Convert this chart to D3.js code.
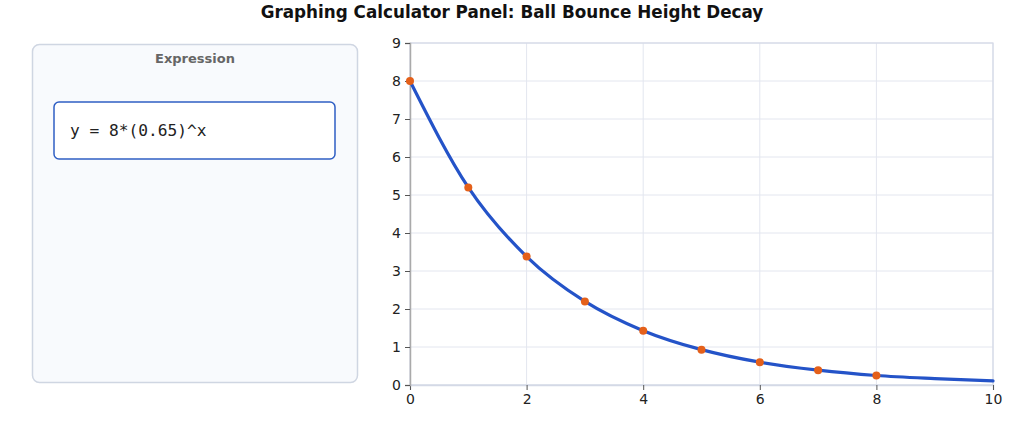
<!DOCTYPE html>
<html>
<head>
<meta charset="utf-8">
<script src="https://cdn.jsdelivr.net/npm/d3@7"></script>
<style>
  body { margin: 0; background: #fff; }
  svg { display: block; font-family: "DejaVu Sans", sans-serif; }
</style>
</head>
<body>
<script>
// chart data
var title = "Graphing Calculator Panel: Ball Bounce Height Decay";
var expression = "y = 8*(0.65)^x";
var curveX = [0, 1, 2, 3, 4, 5, 6, 7, 8, 9, 10];
var curveY = [8, 5.2, 3.38, 2.2, 1.43, 0.93, 0.6, 0.39, 0.25, 0.17, 0.11];
var bounceX = [0, 1, 2, 3, 4, 5, 6, 7, 8];
var bounceY = [8, 5.2, 3.38, 2.2, 1.43, 0.93, 0.6, 0.39, 0.25];
var xTicks = [0, 2, 4, 6, 8, 10];
var yTicks = [0, 1, 2, 3, 4, 5, 6, 7, 8, 9];

var W = 1024, H = 428;
var svg = d3.select("body").append("svg")
	.attr("width", W)
	.attr("height", H);

svg.append("text")
	.attr("x", 512)
	.attr("y", 18)
	.attr("text-anchor", "middle")
	.attr("font-size", 16.8)
	.attr("font-weight", "bold")
	.attr("fill", "#111")
	.text(title);

// left expression panel
var panel = svg.append("g");
panel.append("rect")
	.attr("x", 32.5).attr("y", 44.5)
	.attr("width", 325).attr("height", 338)
	.attr("rx", 7)
	.attr("fill", "#f8fafd")
	.attr("stroke", "#cfd6e2")
	.attr("stroke-width", 1.5);
panel.append("text")
	.attr("x", 195)
	.attr("y", 63)
	.attr("text-anchor", "middle")
	.attr("font-size", 13)
	.attr("font-weight", "bold")
	.attr("fill", "#666")
	.text("Expression");
panel.append("rect")
	.attr("x", 54).attr("y", 102)
	.attr("width", 281).attr("height", 57)
	.attr("rx", 5)
	.attr("fill", "#fff")
	.attr("stroke", "#2f5fc4")
	.attr("stroke-width", 1.5);
panel.append("text")
	.attr("x", 70)
	.attr("y", 136)
	.attr("font-family", "'DejaVu Sans Mono', monospace")
	.attr("font-size", 16.2)
	.attr("fill", "#222")
	.text(expression);

// plot
var x = d3.scaleLinear().domain([0, 10]).range([410, 993]);
var y = d3.scaleLinear().domain([0, 9]).range([385, 43]);

var grid = svg.append("g")
	.attr("stroke", "#e3e6ef")
	.attr("stroke-width", 1);
grid.selectAll("line.gx")
	.data(xTicks)
	.enter().append("line")
		.attr("x1", function(d) { return x(d); })
		.attr("x2", function(d) { return x(d); })
		.attr("y1", y(0))
		.attr("y2", y(9));
grid.selectAll("line.gy")
	.data(yTicks)
	.enter().append("line")
		.attr("x1", x(0))
		.attr("x2", x(10))
		.attr("y1", function(d) { return y(d); })
		.attr("y2", function(d) { return y(d); });

svg.append("rect")
	.attr("x", x(0)).attr("y", y(9))
	.attr("width", x(10) - x(0)).attr("height", y(0) - y(9))
	.attr("fill", "none")
	.attr("stroke", "#d4d9e6")
	.attr("stroke-width", 1.2);

var xAxis = svg.append("g")
	.attr("transform", "translate(0," + y(0) + ")")
	.call(d3.axisBottom(x).tickValues(xTicks).tickSize(5).tickPadding(4).tickFormat(d3.format("d")));
var yAxis = svg.append("g")
	.attr("transform", "translate(" + x(0) + ",0)")
	.call(d3.axisLeft(y).tickValues(yTicks).tickSize(5).tickPadding(4).tickFormat(d3.format("d")));
[xAxis, yAxis].forEach(function(a) {
	a.select(".domain").attr("stroke", "#aaa").attr("stroke-width", 1.5);
	a.selectAll(".tick line").attr("stroke", "#555");
	a.selectAll(".tick text")
		.attr("font-family", "'DejaVu Sans', sans-serif")
		.attr("font-size", 14)
		.attr("fill", "#222");
});
xAxis.select(".domain").attr("stroke", "#d4d9e6");

var line = d3.line()
	.x(function(d, i) { return x(curveX[i]); })
	.y(function(d) { return y(d); })
	.curve(d3.curveMonotoneX);
svg.append("path")
	.datum(curveY)
	.attr("d", line)
	.attr("fill", "none")
	.attr("stroke", "#2453c8")
	.attr("stroke-width", 3.2)
	.attr("stroke-linecap", "round");

svg.selectAll("circle.pt")
	.data(bounceY)
	.enter().append("circle")
		.attr("cx", function(d, i) { return x(bounceX[i]); })
		.attr("cy", function(d) { return y(d); })
		.attr("r", 4)
		.attr("fill", "#e4601a");
</script>
</body>
</html>
